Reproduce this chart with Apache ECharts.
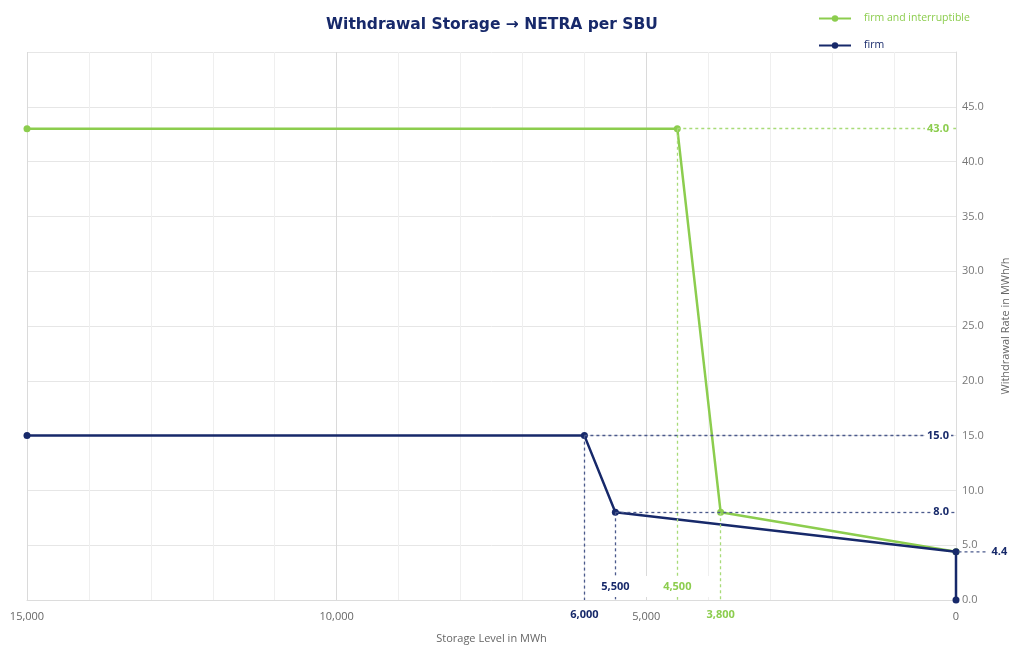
<!DOCTYPE html>
<html>
<head>
<meta charset="utf-8">
<script src="https://cdn.jsdelivr.net/npm/echarts@6/dist/echarts.min.js"></script>
<style>
  html, body { margin: 0; padding: 0; background: #fff; }
  #chart { width: 1017px; height: 647px; }
</style>
</head>
<body>
<div id="chart"></div>
<script>
// storage level (MWh) and withdrawal rate (MWh/h)
const firmStorage = [15000, 6000, 5500, 0, 0];
const firmRate = [15, 15, 8, 4.4, 0];
const fiStorage = [15000, 4500, 3800, 0];
const fiRate = [43, 43, 8, 4.4];
const xLabelTicks = [0, 5000, 10000, 15000];

const GREEN = '#8ccd4e';
const GREEN_LIGHT = '#a8db78';
const NAVY = '#17296a';
const NAVY_DASH = '#4b5a8c';
const FONT = 'Open Sans';

const fmtK = v => v.toLocaleString('en-US');
const pairs = (xs, ys) => xs.map((x, i) => [x, ys[i]]);

// label used on dashed marker lines
const lineLabel = (color, text, pos) => ({
  show: true,
  position: pos,
  formatter: text,
  color: color,
  fontFamily: FONT,
  fontSize: 11,
  fontWeight: 'bold',
  backgroundColor: '#fff',
  padding: [1, 2]
});

const chart = echarts.init(document.getElementById('chart'));

chart.setOption({
  animation: false,
  title: {
    text: 'Withdrawal Storage \u2192 NETRA per SBU',
    left: 321,
    top: 12,
    textStyle: { color: NAVY, fontFamily: 'DejaVu Sans', fontWeight: 'bold', fontSize: 15.5 }
  },
  legend: {
    orient: 'vertical',
    left: 813,
    top: 8,
    itemWidth: 32,
    itemHeight: 8,
    itemGap: 16,
    textStyle: { fontFamily: FONT, fontSize: 10.5, padding: [0, 0, 0, 8] },
    data: [
      { name: 'firm and interruptible', textStyle: { color: GREEN } },
      { name: 'firm', textStyle: { color: NAVY } }
    ]
  },
  grid: { left: 27, right: 61, top: 52, bottom: 47, outerBoundsMode: 'none' },
  xAxis: {
    type: 'value',
    inverse: true,
    min: 0,
    max: 15000,
    interval: 1000,
    name: 'Storage Level in MWh',
    nameLocation: 'middle',
    nameGap: 33,
    nameTextStyle: { color: '#666', fontFamily: FONT, fontSize: 11 },
    axisLine: { lineStyle: { color: '#dcdcdc' } },
    axisTick: { show: false },
    axisLabel: {
      margin: 11,
      color: '#666',
      fontFamily: FONT,
      fontSize: 11,
      formatter: v => xLabelTicks.includes(v) ? fmtK(v) : ''
    },
    splitLine: {
      lineStyle: { color: ['#dadada', '#efefef', '#efefef', '#efefef', '#efefef'] }
    }
  },
  yAxis: {
    type: 'value',
    position: 'right',
    min: 0,
    max: 50,
    interval: 5,
    name: 'Withdrawal Rate in MWh/h',
    nameLocation: 'middle',
    nameRotate: 90,
    nameGap: 44,
    nameTextStyle: { color: '#666', fontFamily: FONT, fontSize: 11 },
    axisLine: { show: true, lineStyle: { color: '#dcdcdc' } },
    axisTick: { show: false },
    axisLabel: {
      showMaxLabel: false,
      margin: 6,
      color: '#777',
      fontFamily: FONT,
      fontSize: 11,
      formatter: v => v.toFixed(1)
    },
    splitLine: { lineStyle: { color: '#e6e6e6' } }
  },
  series: [
    {
      name: 'firm and interruptible',
      type: 'line',
      data: pairs(fiStorage, fiRate),
      color: GREEN,
      lineStyle: { width: 2.5 },
      symbol: 'circle',
      symbolSize: 7,
      z: 3,
      markLine: {
        silent: true,
        symbol: ['none', 'none'],
        lineStyle: { color: GREEN_LIGHT, type: [3, 3], width: 1.3 },
        data: [
          [{ coord: [fiStorage[1], fiRate[1]] }, { coord: [0, fiRate[1]], label: lineLabel(GREEN, '43.0', 'insideEnd') }],
          [{ coord: [fiStorage[1], fiRate[1]] }, { coord: [fiStorage[1], 0], label: { show: false } }],
          [{ coord: [fiStorage[2], fiRate[2]] }, { coord: [fiStorage[2], 0], label: Object.assign(lineLabel(GREEN, fmtK(fiStorage[2]), 'end'), { distance: 8, backgroundColor: 'transparent' }) }]
        ]
      },
      markPoint: {
        z: 10,
        silent: true,
        data: [
          { coord: [fiStorage[1], 0], symbolSize: 0, label: Object.assign(lineLabel(GREEN, fmtK(fiStorage[1]), 'top'), { distance: 3, padding: [5, 18] }) }
        ]
      }
    },
    {
      name: 'firm',
      type: 'line',
      data: pairs(firmStorage, firmRate),
      color: NAVY,
      lineStyle: { width: 2.5 },
      symbol: 'circle',
      symbolSize: 7,
      z: 4,
      markLine: {
        silent: true,
        symbol: ['none', 'none'],
        lineStyle: { color: NAVY_DASH, type: [3, 3], width: 1.3 },
        data: [
          [{ coord: [firmStorage[1], firmRate[1]] }, { coord: [0, firmRate[1]], label: lineLabel(NAVY, '15.0', 'insideEnd') }],
          [{ coord: [firmStorage[2], firmRate[2]] }, { coord: [0, firmRate[2]], label: lineLabel(NAVY, '8.0', 'insideEnd') }],
          [{ coord: [firmStorage[1], firmRate[1]] }, { coord: [firmStorage[1], 0], label: Object.assign(lineLabel(NAVY, fmtK(firmStorage[1]), 'end'), { distance: 8, backgroundColor: 'transparent' }) }],
          [{ coord: [firmStorage[2], firmRate[2]] }, { coord: [firmStorage[2], 0], label: { show: false } }]
        ]
      },
      markPoint: {
        z: 10,
        silent: true,
        data: [
          { coord: [firmStorage[2], 0], symbolSize: 0, label: Object.assign(lineLabel(NAVY, fmtK(firmStorage[2]), 'top'), { distance: 3, padding: [5, 9] }) },
          {
            coord: [firmStorage[3], firmRate[3]],
            symbol: 'path://M0,0h3v1h-3z M6,0h3v1h-3z M12,0h3v1h-3z M18,0h3v1h-3z M24,0h3v1h-3z',
            symbolSize: [27, 1.3],
            symbolOffset: [16, 0],
            itemStyle: { color: NAVY_DASH },
            label: Object.assign(lineLabel(NAVY, '4.4', 'right'), { distance: 4, backgroundColor: 'transparent' })
          }
        ]
      }
    }
  ]
});
</script>
</body>
</html>
